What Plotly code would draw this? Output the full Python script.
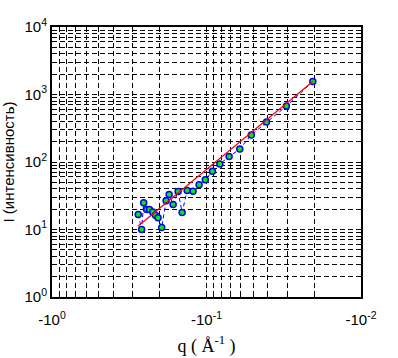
import plotly.graph_objects as go

# data (|q| in 1/Å, intensity)
q_abs = [0.2767, 0.263, 0.255, 0.244, 0.234, 0.223, 0.214, 0.206, 0.195, 0.1825,
         0.1745, 0.1644, 0.1527, 0.1438, 0.1334, 0.1222, 0.1117, 0.1018, 0.0915,
         0.0820, 0.0714, 0.0609, 0.0513, 0.0409, 0.0304, 0.0205]
intensity = [16.7, 10.0, 24.9, 19.8, 19.8, 18.2, 16.2, 14.9, 10.7, 26.7,
             33.0, 23.5, 36.5, 17.9, 37.8, 36.8, 45.9, 54.4, 72.9,
             93.8, 120.2, 156, 252, 391, 674, 1556]

# fitted power-law line end points
fit_q = [0.278, 0.0205]
fit_I = [11.2, 1556]

x_major = [1, 0.1, 0.01]
x_major_text = ["-10<sup>0</sup>", "-10<sup>-1</sup>", "-10<sup>-2</sup>"]
x_minor = [0.9, 0.8, 0.7, 0.6, 0.5, 0.4, 0.3, 0.2,
           0.09, 0.08, 0.07, 0.06, 0.05, 0.04, 0.03, 0.02]

y_major = [1, 10, 100, 1000, 10000]
y_major_text = ["10<sup>0</sup>", "10<sup>1</sup>", "10<sup>2</sup>", "10<sup>3</sup>", "10<sup>4</sup>"]
y_minor = [m * d for d in [1, 10, 100, 1000] for m in range(2, 10)]

fig = go.Figure()
fig.add_trace(go.Scatter(x=q_abs, y=intensity, mode="lines",
                         line=dict(color="#0000ff", width=1, dash="4px,3px"),
                         hoverinfo="skip"))
fig.add_trace(go.Scatter(x=q_abs, y=intensity, mode="markers",
                         marker=dict(color="#00ee00", size=6,
                                     line=dict(color="#0000ff", width=1.5))))
fig.add_trace(go.Scatter(x=fit_q, y=fit_I, mode="lines",
                         line=dict(color="#ff0000", width=1.2)))

grid_style = dict(showgrid=True, gridcolor="black", gridwidth=1, griddash="5px,3px")

axis_common = dict(
    showline=True, linecolor="black", linewidth=2, mirror=True,
    ticks="inside", ticklen=4, tickcolor="black",
    zeroline=False, automargin=False,
    tickfont=dict(family="Liberation Sans, Arial", size=15, color="black"),
    **grid_style,
)

fig.update_layout(
    width=398, height=358,
    margin=dict(l=52, r=37, t=27, b=61),
    paper_bgcolor="white", plot_bgcolor="white",
    showlegend=False,
    xaxis=dict(type="log", range=[0, -2], tickmode="array",
               tickvals=x_major, ticktext=x_major_text, ticklabelstandoff=8,
               minor=dict(tickmode="array", tickvals=x_minor, ticks="inside",
                          ticklen=3, tickcolor="black", **grid_style),
               title=dict(text="q ( Å<sup>-1</sup> )", standoff=12,
                          font=dict(family="Liberation Serif, Times New Roman", size=18, color="black")),
               **axis_common),
    yaxis=dict(type="log", range=[0, 4], tickmode="array",
               tickvals=y_major, ticktext=y_major_text,
               minor=dict(tickmode="array", tickvals=y_minor, ticks="inside",
                          ticklen=3, tickcolor="black", **grid_style),
               title=dict(text="I (интенсивность)", standoff=6,
                          font=dict(family="Liberation Sans, Arial", size=15, color="black")),
               **axis_common),
)

fig.write_html("out.html", config={"displayModeBar": False},
               post_script="document.body.style.margin='0';document.body.style.overflow='hidden';")
